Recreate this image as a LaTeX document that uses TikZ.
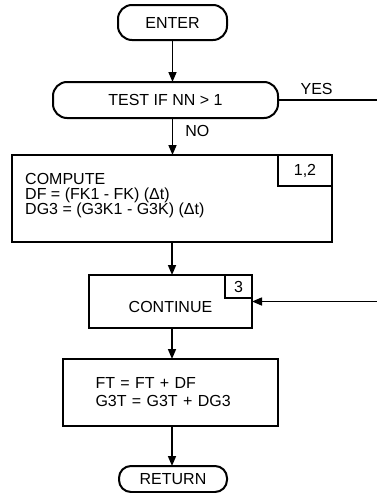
\documentclass[tikz,border=0pt]{standalone}
\usepackage{fontspec}
\setmainfont{Liberation Sans}
\usetikzlibrary{arrows.meta, positioning, calc}

\begin{document}
\begin{tikzpicture}[
  x=1pt, y=1pt,
  >={Triangle[length=10pt, width=8pt]},
  termnode/.style = {draw, line width=2pt, rounded corners=14pt,
                     inner sep=0pt, outer sep=0pt,
                     font=\fontsize{16}{15}\selectfont},
  procnode/.style = {draw, line width=2pt, inner sep=0pt, outer sep=0pt,
                     font=\fontsize{16}{15}\selectfont},
  tagnode/.style  = {draw, line width=1.5pt, inner sep=0pt, outer sep=0pt,
                     anchor=north east,
                     font=\fontsize{16}{15}\selectfont},
  txtnode/.style  = {inner sep=0pt, align=left,
                     font=\fontsize{16}{15}\selectfont},
  arr/.style      = {->, line width=1.5pt},
]
\useasboundingbox (0,0) rectangle (377,-493);

% =============================================
% MAIN COLUMN
% =============================================
\node[termnode, minimum width=109pt, minimum height=35pt]
     (enter) at (172.5,-22.5) {ENTER};
\node[termnode, minimum width=225pt, minimum height=36pt,
      below=42pt of enter, xshift=-7pt] (test) {TEST IF NN > 1};
\node[procnode, minimum width=320pt, minimum height=87pt,
      below=37pt of test, xshift=6.5pt] (compute) {};
\node[txtnode, anchor=north west] (computetxt)
     at ([shift={(13pt,-18pt)}]compute.north west)
     {COMPUTE\\DF = (FK1 - FK) (Δt)\\DG3 = (G3K1 - G3K) (Δt)};
\node[procnode, minimum width=163pt, minimum height=53pt,
      text height=22pt, text depth=0pt,
      below=33pt of compute, xshift=-1.5pt] (contin) {CONTINUE};
\node[procnode, minimum width=215pt, minimum height=67pt,
      text width=150pt, align=left,
      font=\fontsize{16}{18}\selectfont,
      below=31pt of contin] (update) {FT = FT + DF\\G3T = G3T + DG3};
\node[termnode, rounded corners=12pt, minimum width=108pt,
      minimum height=26pt, below=40pt of update, xshift=2.5pt]
     (return) {RETURN};

% reference tags
\node[tagnode, minimum width=54pt, minimum height=31pt]
     (tagtwo) at (compute.north east) {1,2};
\node[tagnode, minimum width=27pt, minimum height=23pt]
     (tagthree) at (contin.north east) {3};

% =============================================
% ARROWS
% =============================================
\draw[arr] (enter.south) -- (enter.south |- test.north);
\draw[arr] (enter.south |- test.south) -- (enter.south |- compute.north)
    node[txtnode, pos=0.35, right=12pt] (nolbl) {NO};
\draw[arr] (compute.south) -- (compute.south |- contin.north);
\draw[arr] (compute.south |- contin.south) -- (compute.south |- update.north);
\draw[arr] (compute.south |- update.south) -- (compute.south |- return.north);

% YES branch, off to the right and back into CONTINUE
\coordinate[right=99pt of test.east] (yesend);
\draw[line width=1.5pt] (test.east) -- (yesend)
    node[txtnode, pos=0.39, above=5pt] (yeslbl) {YES};
\coordinate (loopin) at (yesend |- contin.east);
\draw[arr] (loopin) -- (contin.east);

\end{tikzpicture}
\end{document}
